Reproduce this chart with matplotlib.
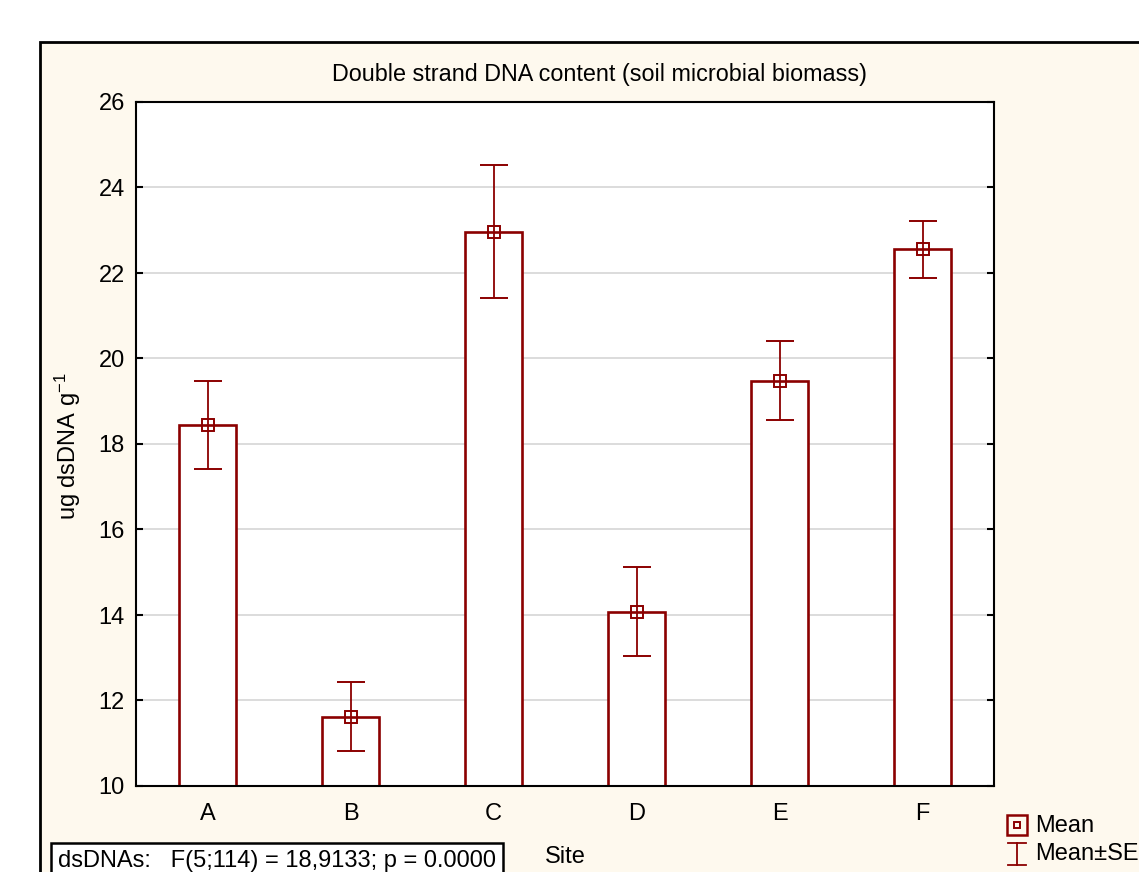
import matplotlib
matplotlib.use("Agg")
import matplotlib.pyplot as plt
from matplotlib.patches import Rectangle
from matplotlib.lines import Line2D

plt.rcParams["font.family"] = ["Liberation Sans", "DejaVu Sans"]
plt.rcParams["mathtext.fontset"] = "custom"
plt.rcParams["mathtext.rm"] = "Liberation Sans"
plt.rcParams["mathtext.it"] = "Liberation Sans:italic"

SITES = ["A", "B", "C", "D", "E", "F"]
MEANS = [18.45, 11.62, 22.97, 14.08, 19.48, 22.55]
SE    = [1.03, 0.81, 1.56, 1.04, 0.93, 0.66]

RED  = "#8b0000"
BG   = "#fef9ee"
W, H = 1139, 872
FS   = 17


def fx(px):
    return px / W


def fy(py):
    return 1 - py / H


fig = plt.figure(figsize=(W / 100, H / 100), dpi=100, facecolor="white")

# outer frame of the graph window
fig.patches.append(Rectangle((fx(40), -0.1), 1.2, fy(42) + 0.1,
                             transform=fig.transFigure, facecolor=BG,
                             edgecolor="black", linewidth=2, zorder=-5))

ax = fig.add_axes([fx(136), fy(786), fx(994) - fx(136), fy(102) - fy(786)])
ax.set_zorder(2)
ax.set_facecolor("white")

x = range(len(SITES))
ax.bar(x, [m - 10 for m in MEANS], bottom=10, width=0.4, color="white",
       edgecolor=RED, linewidth=1.9, zorder=2)
ax.errorbar(x, MEANS, yerr=SE, fmt="s", ms=9, mfc="none", mec=RED, mew=1.4,
            ecolor=RED, elinewidth=1.3, capsize=10, capthick=1.3, zorder=3)

ax.set_xlim(-0.5, 5.5)
ax.set_ylim(10, 26)
ax.set_yticks(range(10, 27, 2))
ax.set_xticks(list(x))
ax.set_xticklabels(SITES)
ax.grid(axis="y", color="#d6d6d6", linewidth=1.2, zorder=0)
ax.set_axisbelow(True)
ax.tick_params(axis="y", direction="in", length=5, width=1.5, labelsize=FS,
               right=True, pad=8)
ax.tick_params(axis="x", direction="in", length=5, width=1, labelsize=FS,
               pad=12)
for s in ax.spines.values():
    s.set_linewidth(1.5)

fig.text(fx(600), fy(75), "Double strand DNA content (soil microbial biomass)",
         ha="center", va="center", fontsize=16.8)
fig.text(fx(68), fy(446), "ug dsDNA g$^{-1}$", rotation=90,
         ha="center", va="center", fontsize=FS)
fig.text(fx(565), fy(857), "Site", ha="center", va="center", fontsize=FS)

# statistics box
fig.text(fx(58), fy(861), "dsDNAs:   F(5;114) = 18,9133; p = 0.0000",
         ha="left", va="center", fontsize=FS,
         bbox=dict(boxstyle="square,pad=0.3", facecolor="white",
                   edgecolor="black", linewidth=1.8))

# legend
fig.add_artist(Line2D([fx(1017)], [fy(825)], marker="s", ms=14, mfc="none",
                      mec=RED, mew=1.8, transform=fig.transFigure))
fig.add_artist(Line2D([fx(1017)], [fy(825)], marker="s", ms=5, mfc="none",
                      mec=RED, mew=1.4, transform=fig.transFigure))
fig.add_artist(Line2D([fx(1017), fx(1017)], [fy(843), fy(865)], color=RED,
                      lw=1.3, transform=fig.transFigure))
fig.add_artist(Line2D([fx(1008), fx(1026)], [fy(843), fy(843)], color=RED,
                      lw=1.3, transform=fig.transFigure))
fig.add_artist(Line2D([fx(1008), fx(1026)], [fy(865), fy(865)], color=RED,
                      lw=1.3, transform=fig.transFigure))
fig.text(fx(1035), fy(826), "Mean", ha="left", va="center", fontsize=FS)
fig.text(fx(1035), fy(854), "Mean±SE", ha="left", va="center", fontsize=FS)

fig.savefig("out.png", dpi=100, facecolor="white")
